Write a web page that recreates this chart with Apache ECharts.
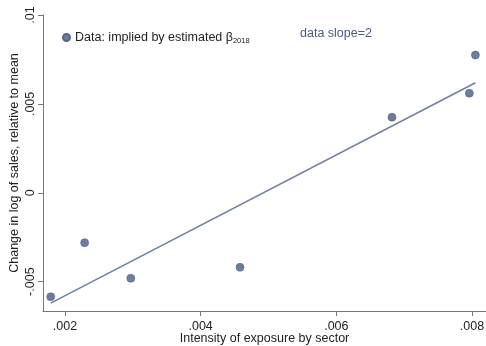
<!DOCTYPE html>
<html>
<head>
<meta charset="utf-8">
<script src="https://cdn.jsdelivr.net/npm/echarts@6/dist/echarts.min.js"></script>
<style>
  html, body { margin: 0; padding: 0; background: #fff; }
  #chart { width: 486px; height: 346px; }
</style>
</head>
<body>
<div id="chart"></div>
<script>
// exposure intensity (x) and change in log sales (y) per sector
const exposure = [0.00179, 0.00229, 0.00297, 0.00458, 0.00682, 0.00796, 0.00805];
const salesChange = [-0.00585, -0.00281, -0.00481, -0.00419, 0.00425, 0.0056, 0.00775];

// fitted line endpoints (slope ~2)
const fitX = [0.00179, 0.00805];
const fitY = [-0.00621, 0.00619];

const xTicks = [0.002, 0.004, 0.006, 0.008];
const yTicks = [-0.005, 0, 0.005, 0.01];

const fmt = (v) => {
  if(v === 0) return "0";
  const s = String(+v.toFixed(4));
  return s.replace(/^(-?)0\./, "$1.");
};

const markerColor = "#6e7c9d";
const lineColor = "#6f7f9f";
const font = "Liberation Sans, Arial, sans-serif";

const chart = echarts.init(document.getElementById("chart"), null, { renderer: "canvas" });

chart.setOption({
  animation: false,
  backgroundColor: "#fff",
  grid: { left: 43, right: 0, top: 15, bottom: 35, outerBoundsMode: "none", containLabel: false },
  legend: {
    left: 57,
    top: 26,
    itemWidth: 7,
    itemHeight: 7,
    itemGap: 6,
    data: [{ name: "points", icon: "circle" }],
    formatter: () => "Data: implied by estimated β{sub|2018}",
    textStyle: {
      fontFamily: font,
      fontSize: 12.5,
      color: "#222",
      rich: {
        sub: { fontSize: 7.5, fontFamily: font, color: "#222", verticalAlign: "bottom", padding: [6, 0, 0, 0] }
      }
    }
  },
  graphic: [
    {
      type: "text",
      left: 300,
      top: 27,
      style: { text: "data slope=2", fontFamily: font, fontSize: 12.5, fill: "#4a5a88" }
    }
  ],
  xAxis: {
    type: "value",
    min: 0.001676,
    max: 0.008206,
    name: "Intensity of exposure by sector",
    nameLocation: "middle",
    nameGap: 21,
    nameMoveOverlap: false,
    nameTextStyle: { fontFamily: font, fontSize: 12.5, color: "#222" },
    axisLine: { show: true, onZero: false, lineStyle: { color: "#777", width: 1 } },
    axisTick: { show: true, length: 5, customValues: xTicks, lineStyle: { color: "#777" } },
    axisLabel: { customValues: xTicks, formatter: fmt, margin: 9, fontFamily: font, fontSize: 12.5, color: "#222" },
    splitLine: { show: false }
  },
  yAxis: {
    type: "value",
    min: -0.00665,
    max: 0.01,
    name: "Change in log of sales, relative to mean",
    nameLocation: "middle",
    nameGap: 22,
    nameMoveOverlap: false,
    nameTextStyle: { fontFamily: font, fontSize: 12.5, color: "#222" },
    axisLine: { show: true, onZero: false, lineStyle: { color: "#777", width: 1 } },
    axisTick: { show: true, length: 5, customValues: yTicks, lineStyle: { color: "#777" } },
    axisLabel: { customValues: yTicks, formatter: fmt, rotate: 90, margin: 6, fontFamily: font, fontSize: 12.5, color: "#222" },
    splitLine: { show: false }
  },
  series: [
    {
      name: "fit",
      type: "line",
      data: fitX.map((x, i) => [x, fitY[i]]),
      showSymbol: false,
      lineStyle: { color: lineColor, width: 1.5 },
      z: 2
    },
    {
      name: "points",
      type: "scatter",
      data: exposure.map((x, i) => [x, salesChange[i]]),
      symbolSize: 8,
      itemStyle: { color: markerColor, borderColor: "#56648a", borderWidth: 0.6, opacity: 1 },
      z: 3
    }
  ]
});
</script>
</body>
</html>
